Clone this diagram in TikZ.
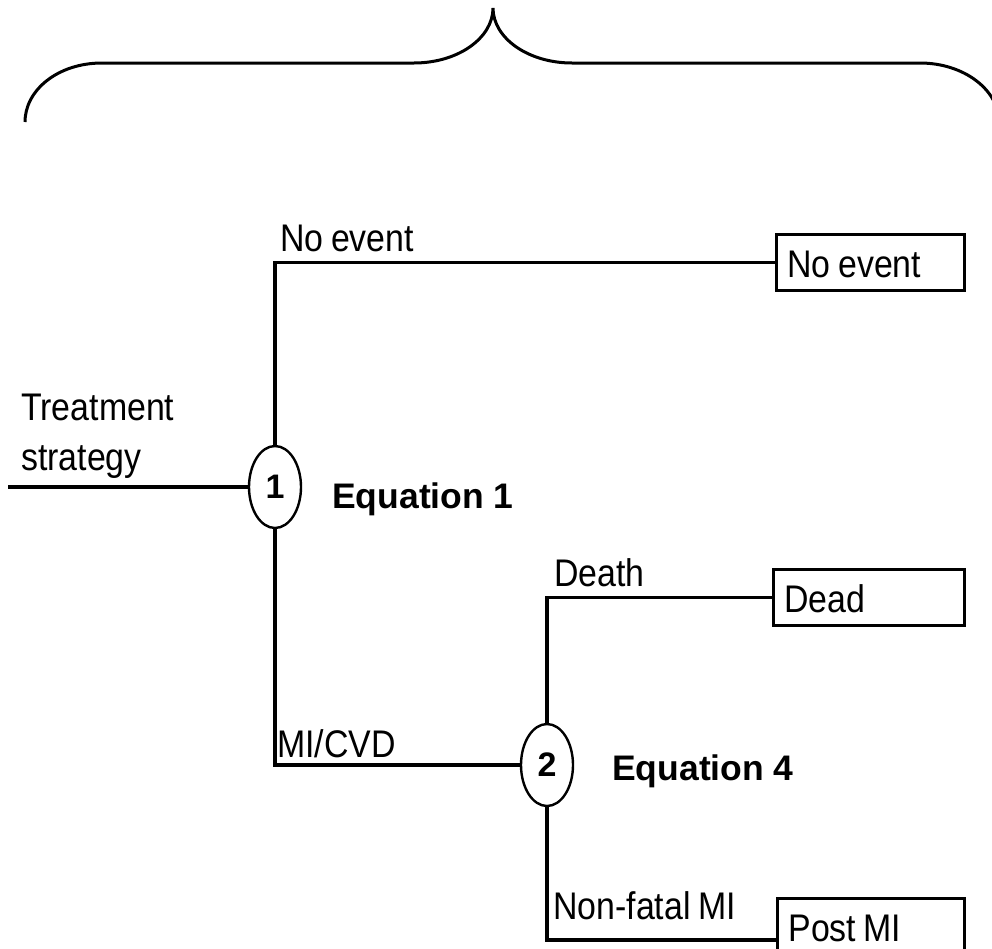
\documentclass[tikz,border=0pt]{standalone}
\usepackage{fontspec}
\setmainfont{Liberation Sans}
\newfontfamily\narrowsans{Liberation Sans}[FakeStretch=0.88, WordSpace=0.8]
\usetikzlibrary{shapes.geometric}

\begin{document}
\begin{tikzpicture}[x=1pt,y=-1pt,
  branch/.style={line width=3.2pt},
  lbl/.style={anchor=base west, inner sep=0pt, font=\narrowsans\fontsize{38.5}{44}\selectfont},
  eqn/.style={anchor=base west, inner sep=0pt, font=\fontsize{35.5}{40}\selectfont\bfseries},
  chance/.style={draw, ellipse, line width=2.4pt, inner sep=0pt,
    minimum width=52pt, minimum height=82pt, font=\fontsize{34}{38}\selectfont\bfseries},
  outcome/.style={draw, rectangle, line width=2.8pt, anchor=north west,
    inner xsep=11pt, inner ysep=0pt, text height=43pt, text depth=13pt,
    font=\narrowsans\fontsize{38.5}{44}\selectfont},
  bracket/.style={line width=3pt}]

\useasboundingbox (0,0) rectangle (992,948);
\clip (0,0) rectangle (992,948);

% overall brace spanning the tree
\draw[bracket] (25,122) .. controls (25,90) and (58,63) .. (102,63)
  -- (414,63) .. controls (458,63) and (493,38) .. (493,8)
  .. controls (493,38) and (528,63) .. (572,63)
  -- (920,63) .. controls (964,63) and (999,90) .. (999,122);

% chance nodes
\node[chance] (e1) at (275,487) {1};
\node[chance] (e2) at (547,765) {2};

% terminal states
\node[outcome] (noevent) at (775,233) {\makebox[166pt][l]{No event}};
\node[outcome] (dead) at (772,568) {\makebox[169pt][l]{Dead}};
\node[outcome, text depth=40pt] (postmi) at (776,897) {\makebox[165pt][l]{Post MI}};

% branches
\coordinate (start) at (8,487);
\draw[branch] (start) -- (e1.west);
\draw[branch] (e1.north) -- (e1.north |- noevent.west) -- (noevent.west);
\draw[branch] (e1.south) -- (e1.south |- e2.west) -- (e2.west);
\draw[branch] (e2.north) -- (e2.north |- dead.west) -- (dead.west);
\draw[branch] (e2.south) -- (e2.south |- postmi.west) -- (postmi.west);

% branch labels
\node[lbl] (tlab1) at (21,420) {Treatment};
\node[lbl] (tlab2) at (21,470) {strategy};
\node[lbl] (noevlab) at (280,251) {No event};
\node[eqn] (eq1) at (332,508) {Equation 1};
\node[lbl] (deathlab) at (554,586) {Death};
\node[lbl] (mclab) at (277,757) {MI/CVD};
\node[eqn] (eq4) at (612,780) {Equation 4};
\node[lbl] (nflab) at (553,919) {Non-fatal MI};

\end{tikzpicture}
\end{document}
